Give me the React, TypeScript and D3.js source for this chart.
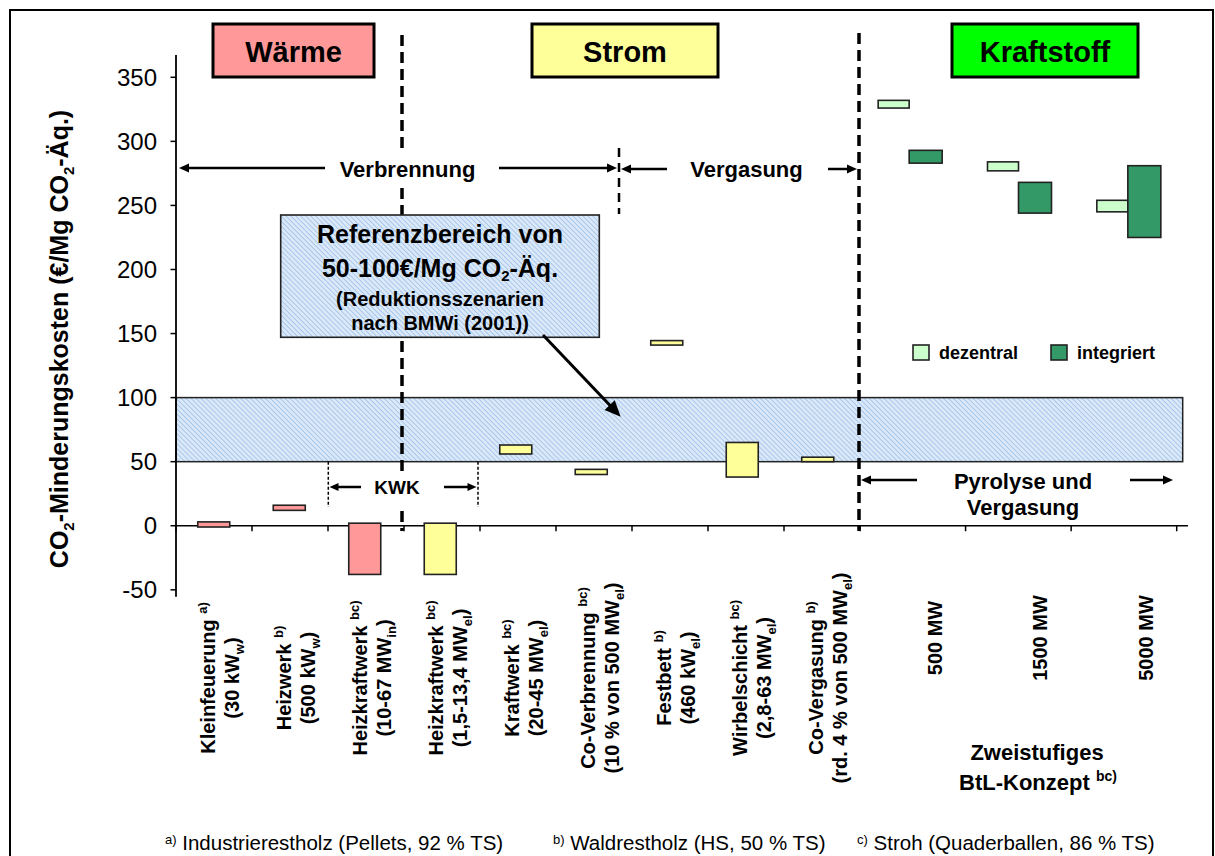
import React from "react";
import * as d3 from "d3";

// ---------- DATA ----------
const categories = [
  "Kleinfeuerung",
  "Heizwerk",
  "Heizkraftwerk",
  "Heizkraftwerk ",
  "Kraftwerk",
  "Co-Verbrennung",
  "Festbett",
  "Wirbelschicht",
  "Co-Vergasung",
];
const categoryNotes = ["a)", "b)", "bc)", "bc)", "bc)", "bc)", "b)", "bc)", "b)"];
const sizePrefix = ["(30 kW", "(500 kW", "(10-67 MW", "(1,5-13,4 MW", "(20-45 MW", "(10 % von 500 MW", "(460 kW", "(2,8-63 MW", "(rd. 4 % von 500 MW"];
const sizeSub = ["w", "w", "in", "el", "el", "el", "el", "el", "el"];
const sector = ["Wärme", "Wärme", "Wärme", "Strom", "Strom", "Strom", "Strom", "Strom", "Strom"];
const lowValues = [-1, 12, -38, -38, 56, 40, 141, 38, 50];
const highValues = [3, 16, 2, 2, 63, 44, 144.5, 65, 53.5];

const btlSizes = ["500 MW", "1500 MW", "5000 MW"];
const dezentralLow = [326, 277, 245];
const dezentralHigh = [332, 284, 254];
const integriertLow = [283, 244, 225];
const integriertHigh = [293, 268, 281];

const yTicks = [-50, 0, 50, 100, 150, 200, 250, 300, 350];
const referenceRange = [50, 100];

const sectors = ["Wärme", "Strom", "Kraftstoff"];
const sectorColors = ["#FF9999", "#FFFF99", "#00FF00"];
const seriesNames = ["dezentral", "integriert"];
const seriesColors = ["#CCFFCC", "#339966"];

const footnoteMarks = ["a)", "b)", "c)"];
const footnoteTexts = [
  "Industrierestholz (Pellets, 92 % TS)",
  "Waldrestholz (HS, 50 % TS)",
  "Stroh (Quaderballen, 86 % TS)",
];

// ---------- LAYOUT ----------
const W = 1215;
const H = 856;
const FONT = "'Liberation Sans', Arial, Helvetica, sans-serif";

const y = d3.scaleLinear().domain([-50, 350]).range([589.8, 77.3]);
const xTick = d3.scaleBand().domain(categories).range([176, 860]);
const xBar = d3.scaleBand().domain(categories).range([176, 855.5]);
const xTickR = d3.scaleBand().domain(btlSizes).range([860, 1176.7]);
const xBarR = d3.scaleBand().domain(btlSizes).range([854.5, 1182.5]);
const sectorColor = d3.scaleOrdinal<string, string>().domain(sectors).range(sectorColors);
const seriesColor = d3.scaleOrdinal<string, string>().domain(seriesNames).range(seriesColors);

function Arrow({ x1, y1, x2, y2, w = 2.5, len = 10, half = 4.5 }: any) {
  const dx = x2 - x1;
  const dy = y2 - y1;
  const L = Math.sqrt(dx * dx + dy * dy);
  const ux = dx / L;
  const uy = dy / L;
  const bx = x2 - ux * len;
  const by = y2 - uy * len;
  const nx = -uy;
  const ny = ux;
  const pts = [
    [x2, y2],
    [bx + nx * half, by + ny * half],
    [bx - nx * half, by - ny * half],
  ]
    .map((p) => p.join(","))
    .join(" ");
  return (
    <g>
      <line x1={x1} y1={y1} x2={bx + ux * 1} y2={by + uy * 1} stroke="#000" strokeWidth={w} />
      <polygon points={pts} fill="#000" />
    </g>
  );
}

export default function App() {
  const barW = 32;
  const yTop = y(367.5);
  const yBot = y(-55.5);
  const y0 = y(0);
  const xAxisEnd = 1188;

  const tickXs: number[] = [];
  categories.forEach((c) => tickXs.push(xTick(c)!));
  tickXs.push(860);
  btlSizes.forEach((c) => tickXs.push(xTickR(c)! + xTickR.bandwidth()));

  const headerBoxes = [
    { x: 213, w: 161 },
    { x: 532, w: 186 },
    { x: 952, w: 186 },
  ];

  return (
    <svg
      width={W}
      height={H}
      viewBox={`0 0 ${W} ${H}`}
      style={{ position: "absolute", left: 0, top: 0, background: "#fff" }}
      fontFamily={FONT}
    >
      <defs>
        <pattern id="hatch" width="3.5" height="3.5" patternUnits="userSpaceOnUse" patternTransform="rotate(-45)">
          <rect width="3.5" height="3.5" fill="#dae8f8" />
          <line x1="0" y1="0" x2="0" y2="3.5" stroke="#9fc2e9" strokeWidth="1.6" />
        </pattern>
      </defs>
      <rect x={0} y={0} width={W} height={H} fill="#fff" />
      {/* outer border */}
      <rect x={10} y={10} width={1203} height={900} fill="none" stroke="#000" strokeWidth={2} />

      {/* reference band */}
      <rect
        x={176}
        y={y(referenceRange[1])}
        width={1182.7 - 176}
        height={y(referenceRange[0]) - y(referenceRange[1])}
        fill="url(#hatch)"
        stroke="#222"
        strokeWidth={1.5}
      />

      {/* header boxes */}
      {sectors.map((s, i) => (
        <g key={s}>
          <rect x={headerBoxes[i].x} y={24} width={headerBoxes[i].w} height={53} fill={sectorColor(s)} stroke="#000" strokeWidth={3} />
          <text x={headerBoxes[i].x + headerBoxes[i].w / 2} y={61.5} textAnchor="middle" fontSize={29} fontWeight="bold">
            {s}
          </text>
        </g>
      ))}

      {/* section dashed lines */}
      <line x1={402} y1={35} x2={402} y2={531} stroke="#000" strokeWidth={3.5} strokeDasharray="11,6" />
      <line x1={859} y1={33} x2={859} y2={531} stroke="#000" strokeWidth={3.5} strokeDasharray="11,6" />
      <line x1={619} y1={148} x2={619} y2={214} stroke="#000" strokeWidth={2.5} strokeDasharray="9,6" />
      {/* KWK dotted lines */}
      <line x1={328.3} y1={y(50)} x2={328.3} y2={507} stroke="#000" strokeWidth={1.5} strokeDasharray="3,2" />
      <line x1={478} y1={y(50)} x2={478} y2={507} stroke="#000" strokeWidth={1.5} strokeDasharray="3,2" />

      {/* Verbrennung / Vergasung annotations */}
      <rect x={332} y={154} width={152} height={30} fill="#fff" />
      <text x={407.5} y={176.5} textAnchor="middle" fontSize={22} fontWeight="bold">Verbrennung</text>
      <Arrow x1={325} y1={168} x2={179} y2={168} />
      <Arrow x1={499} y1={168} x2={617} y2={168} />
      <text x={746.5} y={177} textAnchor="middle" fontSize={22} fontWeight="bold">Vergasung</text>
      <Arrow x1={667} y1={169} x2={621} y2={169} />
      <Arrow x1={828} y1={169} x2={857} y2={169} />

      {/* KWK */}
      <rect x={372} y={472} width={50} height={38} fill="#fff" />
      <text x={397} y={494} textAnchor="middle" fontSize={19} fontWeight="bold">KWK</text>
      <Arrow x1={361} y1={487} x2={329.5} y2={487} w={2.5} len={9} half={4} />
      <Arrow x1={444} y1={487} x2={476.5} y2={487} w={2.5} len={9} half={4} />

      {/* Pyrolyse und Vergasung */}
      <text x={1023} y={489} textAnchor="middle" fontSize={22} fontWeight="bold">Pyrolyse und</text>
      <text x={1023} y={515} textAnchor="middle" fontSize={22} fontWeight="bold">Vergasung</text>
      <Arrow x1={917} y1={480} x2={861} y2={480} />
      <Arrow x1={1130} y1={480} x2={1173} y2={480} />

      {/* axes */}
      <line x1={176} y1={yTop} x2={176} y2={yBot} stroke="#000" strokeWidth={1.8} />
      {yTicks.map((t) => (
        <g key={t}>
          <line x1={170.5} x2={176} y1={y(t)} y2={y(t)} stroke="#000" strokeWidth={1.5} />
          <text x={157} y={y(t)} dy="0.36em" textAnchor="end" fontSize={24}>
            {t}
          </text>
        </g>
      ))}
      <line x1={176} y1={y0} x2={xAxisEnd} y2={y0} stroke="#000" strokeWidth={1.5} />
      {tickXs.map((tx, i) => (
        <line key={i} x1={tx} x2={tx} y1={y0} y2={y0 + 5.5} stroke="#000" strokeWidth={1.5} />
      ))}

      {/* left floating bars */}
      {categories.map((c, i) => {
        const cx = xBar(c)! + xBar.bandwidth() / 2;
        return (
          <rect
            key={c}
            x={cx - barW / 2}
            y={y(highValues[i])}
            width={barW}
            height={y(lowValues[i]) - y(highValues[i])}
            fill={sectorColor(sector[i])}
            stroke="#222"
            strokeWidth={1.6}
          />
        );
      })}

      {/* BtL floating bars */}
      {btlSizes.map((s, i) => {
        const b = xBarR(s)! + xBarR.bandwidth() / 2;
        return (
          <g key={s}>
            <rect x={b - 31} y={y(dezentralHigh[i])} width={31} height={y(dezentralLow[i]) - y(dezentralHigh[i])} fill={seriesColor("dezentral")} stroke="#222" strokeWidth={1.6} />
            <rect x={b} y={y(integriertHigh[i])} width={33} height={y(integriertLow[i]) - y(integriertHigh[i])} fill={seriesColor("integriert")} stroke="#222" strokeWidth={1.6} />
          </g>
        );
      })}

      {/* legend */}
      {seriesNames.map((s, i) => {
        const lx = [913, 1051][i];
        return (
          <g key={s}>
            <rect x={lx} y={345} width={16} height={15} fill={seriesColor(s)} stroke="#222" strokeWidth={1.6} />
            <text x={lx + 26} y={358.5} fontSize={18} fontWeight="bold">{s}</text>
          </g>
        );
      })}

      {/* reference box */}
      <rect x={280.7} y={215} width={318.6} height={122.3} fill="url(#hatch)" stroke="#222" strokeWidth={1.6} />
      <text x={440} y={242.5} textAnchor="middle" fontSize={25} fontWeight="bold">Referenzbereich von</text>
      <text x={440} y={277} textAnchor="middle" fontSize={25} fontWeight="bold">
        <tspan>50-100€/Mg CO</tspan>
        <tspan fontSize={15} dy={4}>2</tspan>
        <tspan dy={-4}>-Äq.</tspan>
      </text>
      <text x={440} y={305.5} textAnchor="middle" fontSize={20} fontWeight="bold">(Reduktionsszenarien</text>
      <text x={440} y={329.5} textAnchor="middle" fontSize={20} fontWeight="bold">nach BMWi (2001))</text>
      <Arrow x1={543} y1={335} x2={620.7} y2={416.7} w={3} len={16} half={7} />

      {/* y title */}
      <text transform={`translate(68,339) rotate(-90)`} textAnchor="middle" fontSize={25} fontWeight="bold">
        <tspan>CO</tspan>
        <tspan fontSize={15} dy={6}>2</tspan>
        <tspan dy={-6}>-Minderungskosten (€/Mg CO</tspan>
        <tspan fontSize={15} dy={6}>2</tspan>
        <tspan dy={-6}>-Äq.)</tspan>
      </text>

      {/* x category labels */}
      {categories.map((c, i) => {
        const cx = xTick(c)! + xTick.bandwidth() / 2;
        return (
          <g key={c + i} transform={`translate(${cx + 0.5},678) rotate(-90)`} fontWeight="bold" fontSize={20}>
            <text x={0} y={0} textAnchor="middle">
              <tspan>{c.trim()} </tspan>
              <tspan fontSize={13} dy={-8}>{categoryNotes[i]}</tspan>
            </text>
            <text x={0} y={24.5} textAnchor="middle">
              <tspan>{sizePrefix[i]}</tspan>
              <tspan fontSize={13} dy={5}>{sizeSub[i]}</tspan>
              <tspan dy={-5}>)</tspan>
            </text>
          </g>
        );
      })}
      {btlSizes.map((s) => {
        const cx = xTickR(s)! + xTickR.bandwidth() / 2;
        return (
          <text key={s} transform={`translate(${cx + 29},638) rotate(-90)`} textAnchor="middle" fontWeight="bold" fontSize={20}>
            {s}
          </text>
        );
      })}
      <text x={1037} y={760} textAnchor="middle" fontSize={22} fontWeight="bold">Zweistufiges</text>
      <text x={1038} y={790} textAnchor="middle" fontSize={22} fontWeight="bold">
        <tspan>BtL-Konzept </tspan>
        <tspan fontSize={14} dy={-9}>bc)</tspan>
      </text>

      {/* footnotes */}
      {footnoteMarks.map((m, i) => {
        const fx = [165, 553, 857][i];
        return (
          <text key={m} x={fx} y={850} fontSize={20.5}>
            <tspan fontSize={13} dy={-6}>{m}</tspan>
            <tspan dy={6}> {footnoteTexts[i]}</tspan>
          </text>
        );
      })}
    </svg>
  );
}
